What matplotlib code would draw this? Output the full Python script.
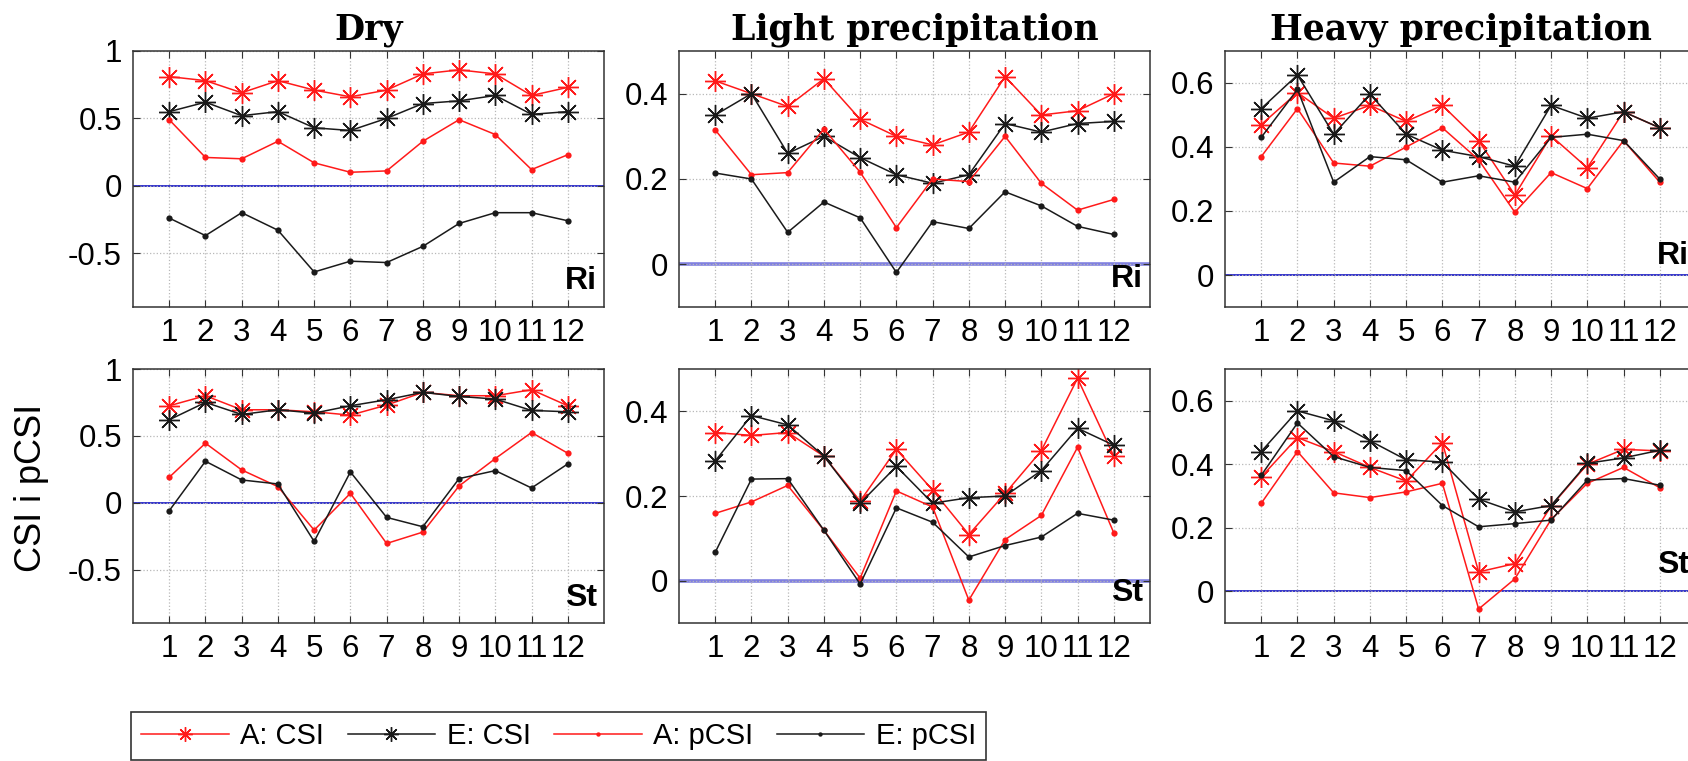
import matplotlib
matplotlib.use("Agg")
import matplotlib.pyplot as plt

plt.rcParams["font.family"] = ["Liberation Sans", "DejaVu Sans"]
plt.rcParams["axes.unicode_minus"] = False

months = list(range(1, 13))
month_labels = [str(m) for m in months]

col_titles = ["Dry", "Light precipitation", "Heavy precipitation"]
row_tags = ["Ri", "St"]
series_names = ["A: CSI", "E: CSI", "A: pCSI", "E: pCSI"]

# --- Ri (top row) ---
dry_ri_a_csi = [0.81, 0.78, 0.69, 0.78, 0.71, 0.66, 0.71, 0.83, 0.86, 0.83, 0.67, 0.73]
dry_ri_e_csi = [0.55, 0.62, 0.52, 0.55, 0.43, 0.41, 0.50, 0.61, 0.63, 0.67, 0.53, 0.55]
dry_ri_a_pcsi = [0.49, 0.21, 0.20, 0.33, 0.17, 0.10, 0.11, 0.33, 0.49, 0.38, 0.12, 0.23]
dry_ri_e_pcsi = [-0.24, -0.37, -0.20, -0.33, -0.64, -0.56, -0.57, -0.45, -0.28, -0.20, -0.20, -0.26]

light_ri_a_csi = [0.43, 0.40, 0.37, 0.435, 0.34, 0.30, 0.28, 0.31, 0.44, 0.35, 0.36, 0.40]
light_ri_e_csi = [0.35, 0.40, 0.26, 0.30, 0.25, 0.21, 0.19, 0.21, 0.33, 0.31, 0.33, 0.335]
light_ri_a_pcsi = [0.315, 0.21, 0.215, 0.317, 0.216, 0.086, 0.20, 0.194, 0.30, 0.19, 0.127, 0.152]
light_ri_e_pcsi = [0.214, 0.20, 0.075, 0.146, 0.109, -0.019, 0.10, 0.084, 0.17, 0.137, 0.089, 0.07]

heavy_ri_a_csi = [0.47, 0.57, 0.49, 0.53, 0.48, 0.53, 0.42, 0.25, 0.435, 0.335, 0.51, 0.46]
heavy_ri_e_csi = [0.52, 0.625, 0.44, 0.565, 0.44, 0.39, 0.37, 0.34, 0.53, 0.49, 0.51, 0.46]
heavy_ri_a_pcsi = [0.37, 0.52, 0.35, 0.34, 0.40, 0.46, 0.36, 0.196, 0.32, 0.27, 0.42, 0.29]
heavy_ri_e_pcsi = [0.43, 0.58, 0.29, 0.37, 0.36, 0.29, 0.31, 0.29, 0.43, 0.44, 0.42, 0.30]

# --- St (bottom row) ---
dry_st_a_csi = [0.725, 0.80, 0.695, 0.695, 0.68, 0.655, 0.73, 0.825, 0.80, 0.80, 0.845, 0.725]
dry_st_e_csi = [0.62, 0.75, 0.66, 0.695, 0.67, 0.725, 0.77, 0.825, 0.795, 0.775, 0.69, 0.68]
dry_st_a_pcsi = [0.19, 0.445, 0.245, 0.12, -0.205, 0.07, -0.305, -0.22, 0.125, 0.33, 0.525, 0.37]
dry_st_e_pcsi = [-0.06, 0.31, 0.17, 0.14, -0.29, 0.23, -0.11, -0.18, 0.18, 0.24, 0.11, 0.29]

light_st_a_csi = [0.35, 0.343, 0.35, 0.294, 0.188, 0.31, 0.214, 0.109, 0.206, 0.307, 0.478, 0.294]
light_st_e_csi = [0.283, 0.39, 0.368, 0.294, 0.183, 0.27, 0.183, 0.196, 0.20, 0.26, 0.36, 0.32]
light_st_a_pcsi = [0.159, 0.186, 0.225, 0.119, 0.006, 0.212, 0.174, -0.046, 0.097, 0.154, 0.315, 0.113]
light_st_e_pcsi = [0.067, 0.24, 0.241, 0.119, -0.008, 0.172, 0.138, 0.056, 0.083, 0.103, 0.159, 0.143]

heavy_st_a_csi = [0.36, 0.484, 0.44, 0.39, 0.347, 0.468, 0.061, 0.087, 0.268, 0.40, 0.447, 0.442]
heavy_st_e_csi = [0.44, 0.568, 0.537, 0.474, 0.414, 0.407, 0.29, 0.25, 0.27, 0.403, 0.42, 0.444]
heavy_st_a_pcsi = [0.277, 0.44, 0.31, 0.295, 0.313, 0.34, -0.056, 0.039, 0.226, 0.34, 0.39, 0.326]
heavy_st_e_pcsi = [0.365, 0.53, 0.424, 0.39, 0.38, 0.27, 0.203, 0.213, 0.224, 0.35, 0.355, 0.334]

panels = [
    [
        (dry_ri_a_csi, dry_ri_e_csi, dry_ri_a_pcsi, dry_ri_e_pcsi),
        (light_ri_a_csi, light_ri_e_csi, light_ri_a_pcsi, light_ri_e_pcsi),
        (heavy_ri_a_csi, heavy_ri_e_csi, heavy_ri_a_pcsi, heavy_ri_e_pcsi),
    ],
    [
        (dry_st_a_csi, dry_st_e_csi, dry_st_a_pcsi, dry_st_e_pcsi),
        (light_st_a_csi, light_st_e_csi, light_st_a_pcsi, light_st_e_pcsi),
        (heavy_st_a_csi, heavy_st_e_csi, heavy_st_a_pcsi, heavy_st_e_pcsi),
    ],
]

ylims = [(-0.9, 1.0), (-0.1, 0.5), (-0.1, 0.7)]
yticks = [[-0.5, 0, 0.5, 1], [0, 0.2, 0.4], [0, 0.2, 0.4, 0.6]]
tag_y = [[0.1, 0.11, 0.2], [0.1, 0.12, 0.23]]

asterisk = (8, 2, 0)
styles = [
    dict(color="#ff1a1a", marker=asterisk, ms=15, mew=1.0),
    dict(color="#1a1a1a", marker=asterisk, ms=15, mew=1.0),
    dict(color="#ff1a1a", marker="o", ms=4.5, mew=0),
    dict(color="#1a1a1a", marker="o", ms=4.5, mew=0),
]

W, H = 1688, 761
fig = plt.figure(figsize=(W / 100, H / 100), dpi=100)

lefts = [133, 679, 1225]
width = 471
tops = [51, 369]
heights = [256, 254]

axes = []
for r in range(2):
    for c in range(3):
        ax = fig.add_axes([lefts[c] / W, 1 - (tops[r] + heights[r]) / H,
                           width / W, heights[r] / H])
        lw0 = 2.6 if c == 1 else 1.4
        zc = "#8080e0" if c == 1 else "#3333cc"
        for k, ys in enumerate(panels[r][c]):
            ax.plot(months, ys, lw=1.1, label=series_names[k], **styles[k])
        ax.axhline(0, color=zc, lw=lw0, zorder=1.5)
        ax.set_xlim(0, 13)
        ax.set_ylim(*ylims[c])
        ax.set_xticks(months)
        ax.set_xticklabels(month_labels)
        ax.set_yticks(yticks[c])
        ax.set_yticklabels(["%g" % v for v in yticks[c]])
        ax.tick_params(direction="in", top=True, right=True, labelsize=22.5,
                       length=5, width=0.8, color="#333333", pad=8)
        ax.grid(True, ls=":", color="#b8b8b8", lw=0.9)
        for s in ax.spines.values():
            s.set_color("#333333")
            s.set_linewidth(1.1)
        ax.text(0.985, tag_y[r][c], row_tags[r], transform=ax.transAxes,
                ha="right", va="center", fontsize=23, fontweight="bold")
        if r == 0:
            ax.set_title(col_titles[c], fontsize=25, fontweight="bold",
                         family="DejaVu Serif", pad=8)
        axes.append(ax)

axes[3].set_ylabel("CSI i pCSI", fontsize=26)
axes[3].yaxis.set_label_coords(-0.179, 0.53)

handles, labels = axes[0].get_legend_handles_labels()
leg = fig.legend(handles, labels, loc="upper left", ncol=4,
                 bbox_to_anchor=(131 / W, 1 - 712 / H), borderaxespad=0,
                 fontsize=21, handlelength=3.0, handletextpad=0.4,
                 columnspacing=0.8, markerscale=0.7, fancybox=False,
                 framealpha=1, edgecolor="#333333", borderpad=0.35)
leg.get_frame().set_linewidth(1.2)

fig.savefig("out.png", dpi=100)
